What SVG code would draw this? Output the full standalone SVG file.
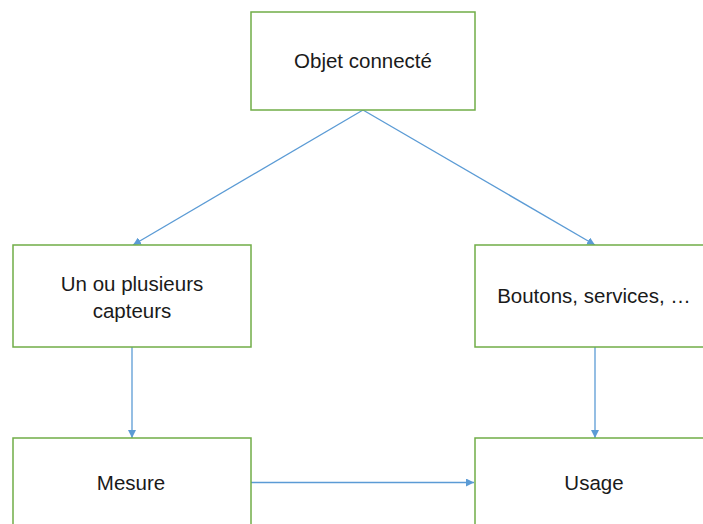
<svg xmlns="http://www.w3.org/2000/svg" width="703" height="524" viewBox="0 0 703 524">
<style>
.box{fill:#ffffff;stroke:#70AD47;stroke-width:1.5}
.lbl{font-family:"Liberation Sans",Arial,sans-serif;font-size:20.5px;fill:#1a1a1a;text-anchor:middle}
.edge{stroke:#5B9BD5;stroke-width:1.3;fill:none;marker-end:url(#ah)}
</style>
<defs>
<marker id="ah" viewBox="0 0 10 10" refX="10" refY="5" markerWidth="8" markerHeight="8" markerUnits="userSpaceOnUse" orient="auto">
<path d="M0,0 L10,5 L0,10 z" fill="#5B9BD5"/>
</marker>
</defs>
<rect width="703" height="524" fill="#ffffff"/>
<g id="connectors">
<line class="edge" x1="363" y1="110" x2="133" y2="245"/>
<line class="edge" x1="363" y1="110" x2="595" y2="245"/>
<line class="edge" x1="132" y1="347" x2="132" y2="438"/>
<line class="edge" x1="595" y1="347" x2="595" y2="438"/>
<line class="edge" x1="251" y1="482.5" x2="474" y2="482.5"/>
</g>
<g id="n-objet">
<rect class="box" x="251" y="12" width="224" height="98"/>
<text class="lbl" x="363" y="68">Objet connecté</text>
</g>
<g id="n-capteurs">
<rect class="box" x="13" y="245" width="238" height="102"/>
<text class="lbl" x="132" y="291">Un ou plusieurs</text>
<text class="lbl" x="132" y="318">capteurs</text>
</g>
<g id="n-boutons">
<rect class="box" x="475" y="245" width="240" height="102"/>
<text class="lbl" x="594" y="303">Boutons, services, …</text>
</g>
<g id="n-mesure">
<rect class="box" x="13" y="438" width="238" height="100"/>
<text class="lbl" x="131" y="490">Mesure</text>
</g>
<g id="n-usage">
<rect class="box" x="475" y="438" width="240" height="100"/>
<text class="lbl" x="594" y="490">Usage</text>
</g>
</svg>
